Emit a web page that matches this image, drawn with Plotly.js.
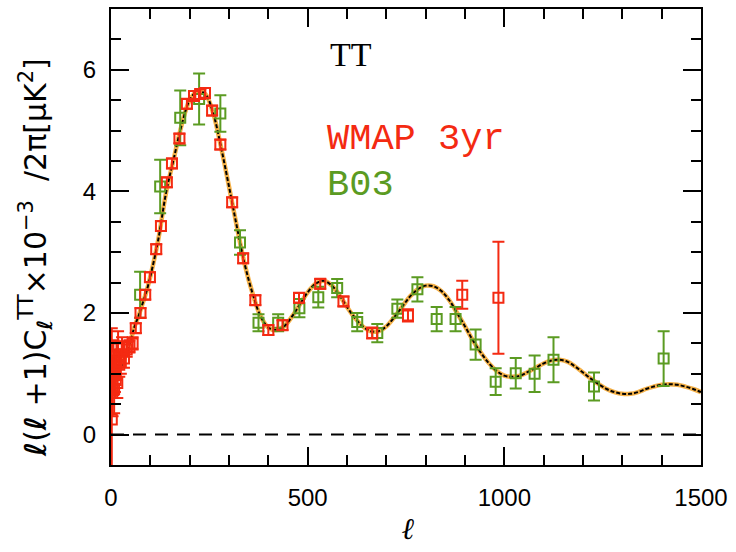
<!DOCTYPE html>
<html>
<head>
<meta charset="utf-8">
<script src="https://cdn.plot.ly/plotly-3.0.1.min.js"></script>
<style>html,body{margin:0;padding:0;background:#fff;}#chart{width:736px;height:552px;}</style>
</head>
<body>
<div id="chart"></div>
<script>
// WMAP 3yr band powers
const wmapL   = [2, 4, 6, 8, 10, 12, 14, 16, 18, 21, 25, 28, 33, 40, 47, 55, 63, 75, 87, 99, 115, 127, 142, 155, 174, 193, 211, 227, 239, 257, 278, 308, 336, 367, 400, 436, 478, 532, 591, 664, 755, 893, 985];
const wmapVal = [0.25, 0.8, 1.1, 0.75, 1.05, 0.9, 1.2, 0.85, 1.45, 1.15, 1.2, 1.45, 1.25, 1.4, 1.45, 1.5, 1.75, 2.0, 2.3, 2.59, 3.05, 3.43, 4.15, 4.46, 4.87, 5.44, 5.57, 5.6, 5.62, 5.33, 4.77, 3.82, 2.9, 2.21, 1.72, 1.8, 2.25, 2.48, 2.19, 1.67, 1.96, 2.3, 2.25];
const wmapErr = [1.5, 0.5, 0.45, 0.4, 0.35, 0.3, 0.3, 0.25, 0.25, 0.2, 0.2, 0.15, 0.15, 0.12, 0.1, 0.1, 0.08, 0.08, 0.08, 0.08, 0.08, 0.08, 0.08, 0.08, 0.08, 0.08, 0.08, 0.08, 0.08, 0.08, 0.08, 0.08, 0.08, 0.08, 0.08, 0.08, 0.08, 0.08, 0.08, 0.09, 0.1, 0.23, 0.92];

// B03 (Boomerang 2003) band powers
const b03L   = [74, 125, 176, 224, 278, 328, 375, 425, 479, 527, 575, 626, 677, 728, 779, 828, 876, 927, 978, 1029, 1077, 1125, 1228, 1405];
const b03Val = [2.3, 4.08, 5.21, 5.52, 5.28, 3.16, 1.84, 1.84, 2.08, 2.26, 2.41, 1.85, 1.67, 2.07, 2.39, 1.9, 1.9, 1.48, 0.87, 1.01, 1.0, 1.23, 0.79, 1.25];
const b03Err = [0.38, 0.44, 0.45, 0.42, 0.3, 0.2, 0.14, 0.14, 0.15, 0.17, 0.15, 0.15, 0.15, 0.15, 0.2, 0.2, 0.2, 0.25, 0.22, 0.25, 0.3, 0.37, 0.23, 0.45];

// best-fit model spectrum
const modelL   = [2, 5, 10, 20, 30, 40, 50, 60, 70, 80, 90, 100, 120, 140, 160, 180, 200, 220, 240, 260, 280, 300, 320, 340, 360, 380, 400, 420, 440, 460, 480, 500, 520, 540, 560, 580, 600, 620, 640, 660, 680, 700, 720, 740, 760, 780, 800, 820, 840, 860, 880, 900, 920, 940, 960, 980, 1000, 1020, 1040, 1060, 1080, 1100, 1120, 1140, 1160, 1180, 1200, 1220, 1240, 1260, 1280, 1300, 1320, 1340, 1360, 1380, 1400, 1420, 1440, 1460, 1480, 1500];
const modelVal = [1.1, 1.0, 0.98, 1.05, 1.18, 1.35, 1.55, 1.78, 1.95, 2.15, 2.35, 2.6, 3.2, 3.98, 4.55, 5.1, 5.5, 5.65, 5.6, 5.28, 4.72, 4.08, 3.42, 2.8, 2.32, 1.95, 1.76, 1.72, 1.78, 1.94, 2.14, 2.34, 2.48, 2.53, 2.46, 2.3, 2.1, 1.92, 1.78, 1.7, 1.7, 1.78, 1.93, 2.1, 2.27, 2.39, 2.45, 2.44, 2.36, 2.21, 2.0, 1.78, 1.55, 1.35, 1.18, 1.05, 0.97, 0.95, 0.97, 1.03, 1.1, 1.17, 1.22, 1.23, 1.2, 1.12, 1.02, 0.92, 0.83, 0.75, 0.7, 0.67, 0.67, 0.7, 0.75, 0.79, 0.82, 0.83, 0.82, 0.79, 0.75, 0.7];

const xTicks = [0, 500, 1000, 1500];
const yTicks = [0, 2, 4, 6];

const RED = '#f42a12';
const GREEN = '#5b9b22';

const traces = [
  {x: modelL, y: modelVal, type: 'scatter', mode: 'lines', line: {color: '#f5b24a', width: 4.5, shape: 'spline'}, hoverinfo: 'skip'},
  {x: modelL, y: modelVal, type: 'scatter', mode: 'lines', line: {color: '#000000', width: 2, shape: 'spline', dash: '4px,2px'}, hoverinfo: 'skip'},
  {x: b03L, y: b03Val, type: 'scatter', mode: 'markers',
   marker: {symbol: 'square-open', size: 10, color: GREEN, line: {width: 2, color: GREEN}},
   error_y: {type: 'data', array: b03Err, visible: true, color: GREEN, thickness: 2, width: 6}},
  {x: wmapL, y: wmapVal, type: 'scatter', mode: 'markers',
   marker: {symbol: 'square-open', size: 10, color: RED, line: {width: 2, color: RED}},
   error_y: {type: 'data', array: wmapErr, visible: true, color: RED, thickness: 2, width: 6}}
];

const axisCommon = {
  showgrid: false, zeroline: false, showline: true, linecolor: '#000', linewidth: 2,
  mirror: 'ticks', ticks: 'inside', tickcolor: '#000', tickwidth: 2, ticklen: 18,
  tickfont: {family: 'Liberation Sans, Arial, sans-serif', size: 24, color: '#000'}
};

const layout = {
  width: 736, height: 552,
  margin: {l: 111, r: 35, t: 9, b: 87},
  paper_bgcolor: '#fff', plot_bgcolor: '#fff',
  showlegend: false,
  xaxis: Object.assign({}, axisCommon, {
    range: [0, 1500], tickmode: 'array', tickvals: xTicks, ticktext: xTicks.map(String),
    ticklabelstandoff: 10,
    minor: {dtick: 100, tick0: 0, ticks: 'inside', ticklen: 10, tickwidth: 2, tickcolor: '#000'}
  }),
  yaxis: Object.assign({}, axisCommon, {
    range: [-0.5, 7], tickmode: 'array', tickvals: yTicks, ticktext: yTicks.map(String),
    ticklabelstandoff: 8,
    minor: {dtick: 0.5, tick0: 0, ticks: 'inside', ticklen: 10, tickwidth: 2, tickcolor: '#000'}
  }),
  shapes: [
    {type: 'line', xref: 'paper', yref: 'y', x0: 0, x1: 1, y0: 0, y1: 0,
     line: {color: '#000', width: 2, dash: '13px,9px'}}
  ],
  annotations: [
    {xref: 'paper', yref: 'paper', x: 0.368, y: 0.9, xanchor: 'left', yanchor: 'middle', showarrow: false,
     text: 'TT', font: {family: 'Liberation Serif, Times New Roman, serif', size: 34, color: '#000'}},
    {xref: 'paper', yref: 'paper', x: 0.363, y: 0.715, xanchor: 'left', yanchor: 'middle', showarrow: false,
     text: 'WMAP 3yr', font: {family: 'Liberation Mono, Courier New, monospace', size: 37, color: RED}},
    {xref: 'paper', yref: 'paper', x: 0.363, y: 0.615, xanchor: 'left', yanchor: 'middle', showarrow: false,
     text: 'B03', font: {family: 'Liberation Mono, Courier New, monospace', size: 37, color: GREEN}},
    {xref: 'paper', yref: 'paper', x: 0.505, y: -0.14, xanchor: 'center', yanchor: 'middle', showarrow: false,
     text: '<b><i>ℓ</i></b>', font: {family: 'DejaVu Serif, serif', size: 30, color: '#000'}},
    {xref: 'paper', yref: 'paper', x: -0.128, y: 0.455, xanchor: 'center', yanchor: 'middle', showarrow: false, textangle: -90,
     text: '<b><i>ℓ</i></b>(<b><i>ℓ</i></b> +1)C<sub><b><i>ℓ</i></b></sub><sup>TT</sup>×10<sup>−3</sup>  /2π[μK<sup>2</sup>]',
     font: {family: 'DejaVu Sans, sans-serif', size: 30, color: '#000'}}
  ]
};

Plotly.newPlot('chart', traces, layout, {staticPlot: true, displayModeBar: false});
</script>
</body>
</html>
